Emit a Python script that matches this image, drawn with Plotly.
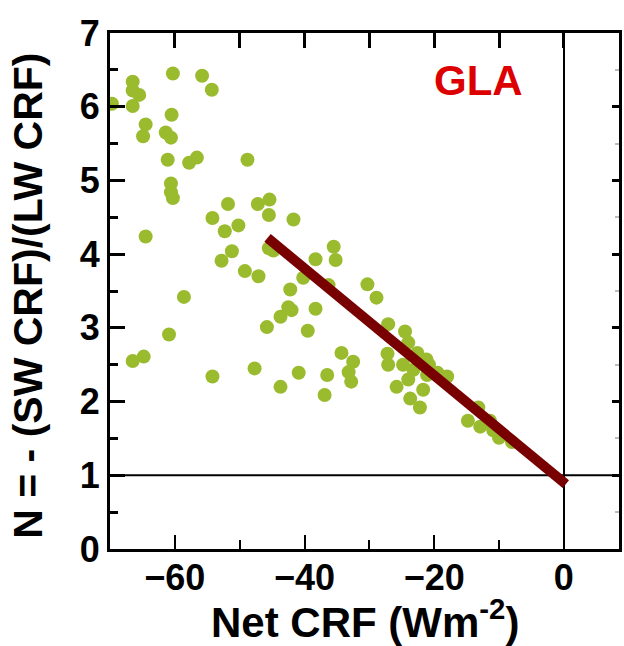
import plotly.graph_objects as go

# Scatter data: Net CRF (x) vs N = -(SW CRF)/(LW CRF) (y)
net_crf = [
    -69.7, -66.5, -66.5, -65.5, -66.5, -60.3, -55.8, -54.3, -60.5, -64.5,
    -64.9, -61.4, -60.6, -61.1, -57.8, -56.6, -48.8, -60.6, -60.6, -60.3,
    -64.5, -51.8, -54.2, -52.3, -50.2, -47.2, -45.4, -45.5, -41.7, -51.2,
    -52.8, -49.2, -47.1, -45.5, -44.8, -38.3, -35.5, -35.2, -40.2, -36.3,
    -42.2, -58.6, -42.5, -42.0, -43.7, -38.3, -45.8, -39.5, -60.9, -66.5,
    -64.8, -54.2, -47.7, -43.7, -40.9, -36.5, -36.9, -34.3, -33.2, -32.8,
    -32.5, -30.3, -28.9, -27.1, -24.5, -24.0, -27.2, -27.1, -24.8, -22.6,
    -21.2, -20.8, -19.5, -18.0, -24.0, -25.8, -21.7, -23.7, -22.2, -23.2,
    -21.1, -14.8, -13.2, -12.9, -11.4, -10.9, -10.0, -8.0,
]
n_ratio = [
    6.04, 6.34, 6.22, 6.16, 6.01, 6.45, 6.42, 6.23, 5.89, 5.76,
    5.60, 5.65, 5.58, 5.28, 5.24, 5.31, 5.28, 4.96, 4.84, 4.76,
    4.24, 4.68, 4.49, 4.31, 4.39, 4.68, 4.74, 4.53, 4.47, 4.04,
    3.91, 3.77, 3.70, 4.08, 4.05, 3.93, 4.10, 3.92, 3.68, 3.58,
    3.52, 3.42, 3.28, 3.24, 3.15, 3.26, 3.01, 2.96, 2.91, 2.55,
    2.61, 2.34, 2.45, 2.20, 2.39, 2.36, 2.09, 2.66, 2.40, 2.27,
    2.54, 3.59, 3.41, 3.05, 2.95, 2.80, 2.65, 2.50, 2.50, 2.66,
    2.57, 2.50, 2.39, 2.34, 2.30, 2.20, 2.16, 2.04, 1.92, 2.43,
    2.36, 1.74, 1.92, 1.66, 1.74, 1.61, 1.51, 1.45,
]

# Regression line end points
fit_x = [-45.7, 0.3]
fit_y = [4.22, 0.88]

x_range = [-70, 8.5]
y_range = [0, 7]

FONT = "Liberation Sans, Arial, sans-serif"

fig = go.Figure()
fig.add_trace(go.Scatter(
    x=net_crf, y=n_ratio, mode="markers",
    marker=dict(color="#9bbb2f", size=14, line=dict(width=0)),
    showlegend=False, hoverinfo="skip",
))
fig.add_trace(go.Scatter(
    x=fit_x, y=fit_y, mode="lines",
    line=dict(color="#780000", width=10),
    showlegend=False, hoverinfo="skip",
))
# invisible trace to activate the mirrored axes
fig.add_trace(go.Scatter(
    x=[x_range[0]], y=[y_range[0]], xaxis="x2", yaxis="y2",
    mode="markers", marker=dict(opacity=0), showlegend=False, hoverinfo="skip",
))

fig.add_hline(y=1, line=dict(color="black", width=2), layer="below")

fig.add_annotation(
    x=-13.1, y=6.35, xref="x", yref="y", text="<b>GLA</b>", showarrow=False,
    font=dict(family=FONT, size=42, color="#dd0000"),
)
# axis titles
fig.add_annotation(
    x=0.5, y=-0.135, xref="paper", yref="paper", xanchor="center", yanchor="middle",
    text="<b>Net CRF (Wm<sup>-2</sup>)</b>", showarrow=False,
    font=dict(family=FONT, size=42, color="black"),
)
fig.add_annotation(
    x=-0.16, y=0.49, xref="paper", yref="paper", xanchor="center", yanchor="middle",
    text="<b>N = - (SW CRF)/(LW CRF)</b>", showarrow=False, textangle=-90,
    font=dict(family=FONT, size=41, color="black"),
)

fig.update_layout(
    width=624, height=646,
    margin=dict(l=110, r=5, t=33, b=97, autoexpand=False),
    paper_bgcolor="white", plot_bgcolor="white",
    font=dict(family=FONT, color="black"),
    xaxis=dict(
        range=x_range, showgrid=False, automargin=False,
        zeroline=True, zerolinecolor="black", zerolinewidth=2,
        showline=True, linecolor="black", linewidth=3,
        ticks="inside", ticklen=14, tickwidth=2, tickcolor="black",
        tick0=0, dtick=20, ticklabelstandoff=-5,
        minor=dict(ticks="inside", ticklen=9, tickwidth=2, tickcolor="black", dtick=10, tick0=0, showgrid=False),
        tickfont=dict(family=FONT, size=36, color="black", weight="bold"),
    ),
    xaxis2=dict(
        range=x_range, overlaying="x", side="top", anchor="y",
        showgrid=False, zeroline=False, automargin=False,
        showline=True, linecolor="black", linewidth=3,
        ticks="inside", ticklen=15, tickwidth=3, tickcolor="black",
        tick0=0, dtick=10, showticklabels=False,
    ),
    yaxis=dict(
        range=y_range, showgrid=False, zeroline=False, automargin=False,
        showline=True, linecolor="black", linewidth=3,
        ticks="inside", ticklen=15, tickwidth=3, tickcolor="black",
        tick0=0, dtick=1,
        minor=dict(ticks="inside", ticklen=8, tickwidth=3, tickcolor="black", dtick=0.5, tick0=0, showgrid=False),
        tickfont=dict(family=FONT, size=36, color="black", weight="bold"),
    ),
    yaxis2=dict(
        range=y_range, overlaying="y", side="right", anchor="x",
        showgrid=False, zeroline=False, automargin=False,
        showline=True, linecolor="black", linewidth=3,
        ticks="inside", ticklen=7, tickwidth=3, tickcolor="black",
        tick0=0, dtick=1, showticklabels=False,
        minor=dict(ticks="inside", ticklen=4, tickwidth=2, tickcolor="#bbbbbb", dtick=0.5, tick0=0),
    ),
)

fig.write_html("out.html", config={"displayModeBar": False},
               post_script="document.body.style.margin='0px';")
